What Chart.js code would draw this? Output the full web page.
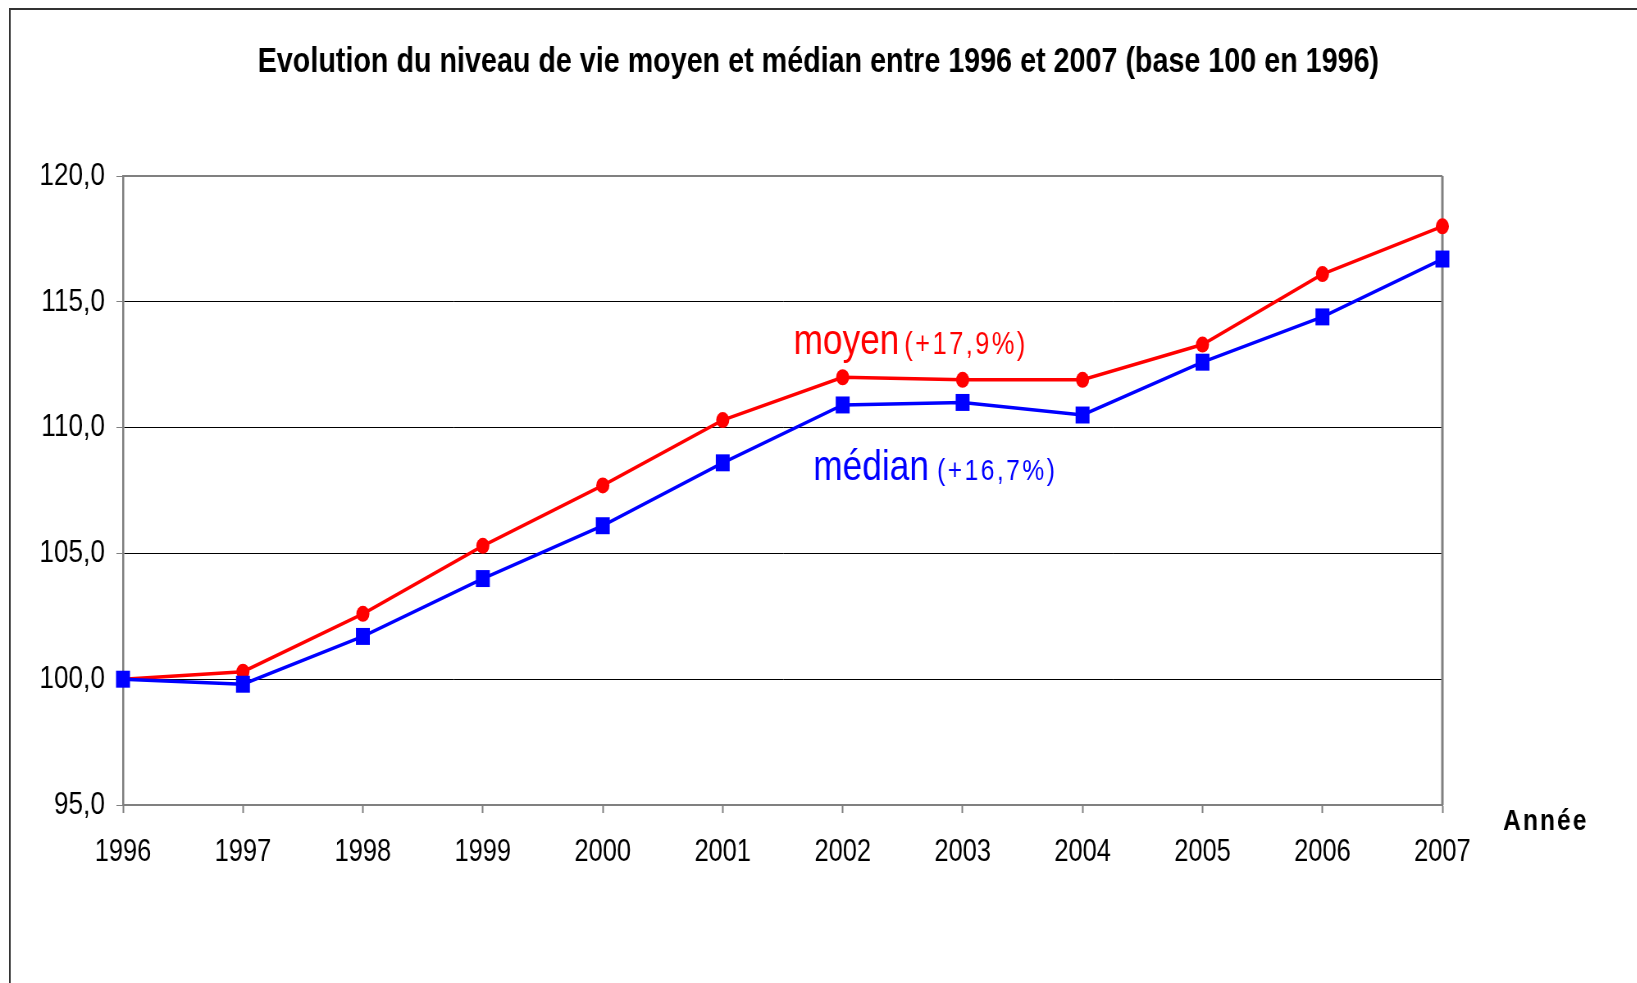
<!DOCTYPE html>
<html><head><meta charset="utf-8">
<script src="https://cdn.jsdelivr.net/npm/chart.js@4"></script>
<style>
html,body{margin:0;padding:0;background:#fff;overflow:hidden;}
#wrap{width:1637px;height:983px;overflow:hidden;position:relative;}
#c{display:block;transform-origin:0 0;}
</style>
</head><body>
<div id="wrap"><canvas id="c"></canvas></div>
<script>
const years = ['1996','1997','1998','1999','2000','2001','2002','2003','2004','2005','2006','2007'];
const moyen = [100.0,100.3,102.6,105.3,107.7,110.3,112.0,111.9,111.9,113.3,116.1,118.0];
const median = [100.0,99.8,101.7,104.0,106.1,108.6,110.9,111.0,110.5,112.6,114.4,116.7];
const yTicks = [95,100,105,110,115,120];
const titleText = 'Evolution du niveau de vie moyen et médian entre 1996 et 2007 (base 100 en 1996)';
const xAxisTitle = 'Année';
const nameMoyen = 'moyen', pctMoyen = '(+17,9%)';
const nameMedian = 'médian', pctMedian = '(+16,7%)';

// The original chart is horizontally condensed (Arial Narrow look); draw wide, then squeeze.
const K = 0.82;
const W = Math.round(1637 / K), H = 983;
const canvas = document.getElementById('c');
canvas.width = W; canvas.height = H;
canvas.style.width = W + 'px'; canvas.style.height = H + 'px';
canvas.style.transform = 'scaleX(' + K + ')';

const FONT = "'Liberation Sans', Arial, Helvetica, sans-serif";
const RED = '#ff0000', BLUE = '#0000ff';

const decor = {
  id: 'decor',
  beforeDraw(chart) {
    const ctx = chart.ctx;
    ctx.save();
    ctx.fillStyle = '#fff';
    ctx.fillRect(0, 0, chart.width, chart.height);
    ctx.strokeStyle = '#333';
    ctx.lineWidth = 2;
    ctx.beginPath();
    ctx.moveTo(12, chart.height);
    ctx.lineTo(12, 9);
    ctx.lineTo(chart.width, 9);
    ctx.stroke();
    ctx.restore();
  },
  beforeDatasetsDraw(chart) {
    const {ctx, chartArea: a} = chart;
    ctx.save();
    ctx.strokeStyle = '#808080';
    ctx.lineWidth = 2;
    ctx.beginPath();
    ctx.moveTo(a.left, a.top);
    ctx.lineTo(a.right, a.top);
    ctx.stroke();
    ctx.lineWidth = 3;
    ctx.beginPath();
    ctx.moveTo(a.right, a.top);
    ctx.lineTo(a.right, a.bottom);
    ctx.stroke();
    ctx.restore();
  },
  afterDraw(chart) {
    const ctx = chart.ctx;
    const xs = chart.scales.x, ys = chart.scales.y;
    ctx.save();
    ctx.textBaseline = 'alphabetic';
    // title
    ctx.fillStyle = '#000';
    ctx.font = 'bold 35px ' + FONT;
    ctx.textAlign = 'center';
    ctx.fillText(titleText, chart.width / 2, 72);
    // axis title
    ctx.textAlign = 'left';
    ctx.font = 'bold 30px ' + FONT;
    ctx.letterSpacing = '2.5px';
    ctx.fillText(xAxisTitle, xs.right + 74, 830);
    ctx.letterSpacing = '0px';
    // annotations
    function ann(name, pct, color, idx, val, pctSize, gap) {
      const x = xs.getPixelForValue(idx);
      const y = ys.getPixelForValue(val);
      ctx.fillStyle = color;
      ctx.font = '43px ' + FONT;
      ctx.letterSpacing = '0px';
      ctx.fillText(name, x, y);
      const w = ctx.measureText(name).width;
      ctx.font = pctSize + 'px ' + FONT;
      ctx.letterSpacing = '3px';
      ctx.fillText(pct, x + w + gap, y);
      ctx.letterSpacing = '0px';
    }
    ann(nameMoyen, pctMoyen, RED, 5.59, 112.92, 31, 6);
    ann(nameMedian, pctMedian, BLUE, 5.755, 107.92, 30, 10);
    ctx.restore();
  }
};

new Chart(canvas, {
  type: 'line',
  data: {
    labels: years,
    datasets: [
      {
        label: 'moyen', data: moyen, order: 1,
        borderColor: RED, backgroundColor: RED, borderWidth: 3.5,
        pointStyle: 'circle', pointRadius: 8, pointBorderWidth: 0,
        pointBackgroundColor: RED, tension: 0, clip: false
      },
      {
        label: 'médian', data: median, order: 0,
        borderColor: BLUE, backgroundColor: BLUE, borderWidth: 3.5,
        pointStyle: 'rect', pointRadius: 12, pointBorderWidth: 0,
        pointBorderColor: BLUE, pointBackgroundColor: BLUE, tension: 0, clip: false
      }
    ]
  },
  options: {
    responsive: false,
    animation: false,
    devicePixelRatio: 1,
    layout: { padding: { left: 0, top: 176, right: 237, bottom: 118 } },
    plugins: { legend: { display: false }, tooltip: { enabled: false }, title: { display: false } },
    scales: {
      x: {
        type: 'category',
        offset: false,
        afterFit(s) { s.height = 60; },
        grid: { drawOnChartArea: false, drawTicks: true, tickLength: 8, tickColor: '#808080', tickWidth: 2 },
        border: { display: true, color: '#808080', width: 2 },
        ticks: { color: '#000', font: { size: 31, family: FONT }, padding: 21, maxRotation: 0, autoSkip: false }
      },
      y: {
        min: 95, max: 120,
        afterFit(s) { s.width = 150; },
        afterBuildTicks(s) { s.ticks = yTicks.map(v => ({ value: v })); },
        grid: {
          color: c => (c.tick && (c.tick.value === 120 || c.tick.value === 95)) ? 'rgba(0,0,0,0)' : '#000',
          lineWidth: 1, drawTicks: true, tickLength: 8, tickColor: '#808080'
        },
        border: { display: true, color: '#808080', width: 2.5 },
        ticks: {
          color: '#000', font: { size: 32, family: FONT }, padding: 14,
          callback: v => v.toFixed(1).replace('.', ',')
        }
      }
    }
  },
  plugins: [decor]
});
</script>
</body></html>
